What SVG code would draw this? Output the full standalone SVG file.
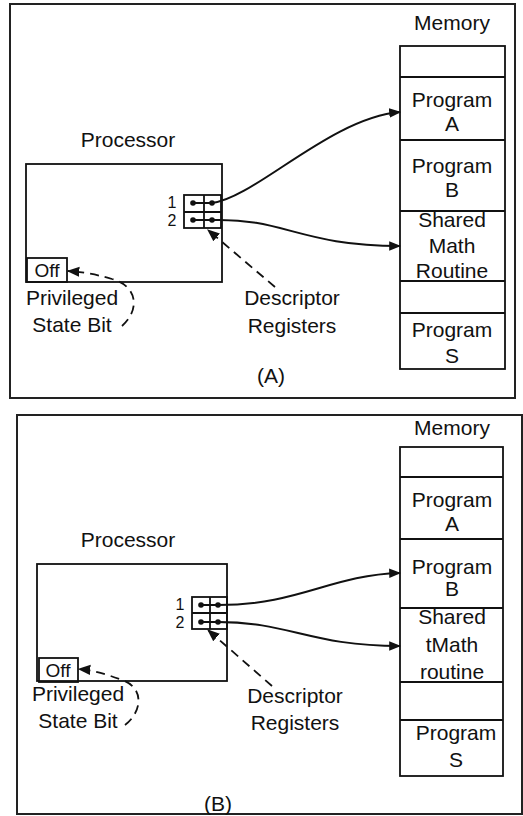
<svg xmlns="http://www.w3.org/2000/svg" width="523" height="816" viewBox="0 0 523 816">
<style>
text{font-family:"Liberation Sans",Arial,sans-serif;font-size:21px;fill:#111;text-anchor:middle}
.sm{font-size:19px}
.num{font-size:16px}
.box{fill:none;stroke:#111;stroke-width:1.8}
.frame{fill:none;stroke:#222;stroke-width:2}
.conn{fill:none;stroke:#111;stroke-width:2}
.dash{fill:none;stroke:#111;stroke-width:1.8;stroke-dasharray:9 6}
.dot{fill:#111}
</style>
<defs>
<marker id="ah" viewBox="0 0 10 10" refX="9" refY="5" markerWidth="6" markerHeight="6" orient="auto" markerUnits="strokeWidth">
<path d="M0,1 L10,5 L0,9 z" fill="#111"/>
</marker>
<marker id="ahd" viewBox="0 0 10 10" refX="9" refY="5" markerWidth="7" markerHeight="7" orient="auto" markerUnits="strokeWidth">
<path d="M0,1 L10,5 L0,9 z" fill="#111"/>
</marker>
</defs>

<!-- Panel A -->
<g id="panelA">
<rect class="frame" x="10" y="4" width="505" height="394"/>
<text x="271" y="383">(A)</text>
</g>
<g id="memoryA">
<text x="452" y="30">Memory</text>
<rect class="box" x="400" y="46" width="105" height="323"/>
<line class="box" x1="400" y1="77" x2="505" y2="77"/>
<line class="box" x1="400" y1="140" x2="505" y2="140"/>
<line class="box" x1="400" y1="211" x2="505" y2="211"/>
<line class="box" x1="400" y1="281" x2="505" y2="281"/>
<line class="box" x1="400" y1="313" x2="505" y2="313"/>
<text x="452" y="107">Program</text><text x="452" y="131">A</text>
<text x="452" y="173">Program</text><text x="452" y="197">B</text>
<text x="452" y="227">Shared</text><text x="452" y="253">Math</text><text x="452" y="278">Routine</text>
<text x="452" y="337">Program</text><text x="452" y="363">S</text>
</g>
<g id="processorA">
<text x="128" y="147">Processor</text>
<rect class="box" x="26" y="164" width="196" height="118"/>
</g>
<g id="registersA">
<rect class="box" x="184" y="195" width="37" height="33"/>
<line class="box" x1="184" y1="212" x2="221" y2="212"/>
<line class="box" x1="204" y1="195" x2="204" y2="228"/>
<text class="num" x="172" y="208">1</text>
<text class="num" x="172" y="226">2</text>
<circle class="dot" cx="193" cy="203" r="2.8"/><circle class="dot" cx="212" cy="203" r="2.8"/>
<circle class="dot" cx="193" cy="220" r="2.8"/><circle class="dot" cx="212" cy="220" r="2.8"/>
<line class="conn" x1="193" y1="203" x2="212" y2="203"/>
<line class="conn" x1="193" y1="220" x2="212" y2="220"/>
</g>
<g id="offA">
<rect class="box" x="27" y="258" width="40" height="24"/>
<text class="sm" x="47" y="277">Off</text>
</g>
<g id="labelsA">
<text x="72" y="305">Privileged</text>
<text x="72" y="332">State Bit</text>
<text x="292" y="305">Descriptor</text>
<text x="292" y="333">Registers</text>
</g>

<!-- Panel B -->
<g id="panelB">
<rect class="frame" x="17" y="415" width="505" height="399"/>
<text x="218" y="811">(B)</text>
</g>
<g id="memoryB">
<text x="452" y="435">Memory</text>
<rect class="box" x="400" y="447" width="103" height="329"/>
<line class="box" x1="400" y1="477" x2="503" y2="477"/>
<line class="box" x1="400" y1="539" x2="503" y2="539"/>
<line class="box" x1="400" y1="608" x2="503" y2="608"/>
<line class="box" x1="400" y1="682" x2="503" y2="682"/>
<line class="box" x1="400" y1="720" x2="503" y2="720"/>
<text x="452" y="507">Program</text><text x="452" y="531">A</text>
<text x="452" y="574">Program</text><text x="452" y="596">B</text>
<text x="452" y="624">Shared</text><text x="452" y="652">tMath</text><text x="452" y="679">routine</text>
<text x="456" y="740">Program</text><text x="456" y="767">S</text>
</g>
<g id="processorB">
<text x="128" y="547">Processor</text>
<rect class="box" x="37" y="564" width="190" height="117"/>
</g>
<g id="registersB">
<rect class="box" x="192" y="597" width="35" height="32"/>
<line class="box" x1="192" y1="613" x2="227" y2="613"/>
<line class="box" x1="210" y1="597" x2="210" y2="629"/>
<text class="num" x="180" y="610">1</text>
<text class="num" x="180" y="628">2</text>
<circle class="dot" cx="201" cy="605" r="2.8"/><circle class="dot" cx="218" cy="605" r="2.8"/>
<circle class="dot" cx="201" cy="622" r="2.8"/><circle class="dot" cx="218" cy="622" r="2.8"/>
<line class="conn" x1="201" y1="605" x2="218" y2="605"/>
<line class="conn" x1="201" y1="622" x2="218" y2="622"/>
</g>
<g id="offB">
<rect class="box" x="39" y="658" width="39" height="24"/>
<text class="sm" x="58" y="677">Off</text>
</g>
<g id="labelsB">
<text x="78" y="701">Privileged</text>
<text x="78" y="728">State Bit</text>
<text x="295" y="703">Descriptor</text>
<text x="295" y="730">Registers</text>
</g>

<g id="connectors">
<path class="conn" marker-end="url(#ah)" d="M212,203 C255,198 330,118 400,112"/>
<path class="conn" marker-end="url(#ah)" d="M212,220 C285,218 300,246 400,246"/>
<path class="dash" marker-end="url(#ahd)" d="M122,326 C140,310 138,286 112,279 C95,274 82,272 68,271"/>
<path class="dash" marker-end="url(#ahd)" d="M275,287 L208,230"/>
<path class="conn" marker-end="url(#ah)" d="M218,605 C300,605 330,575 400,573"/>
<path class="conn" marker-end="url(#ah)" d="M218,622 C290,622 310,646 400,646"/>
<path class="dash" marker-end="url(#ahd)" d="M125,725 C142,712 145,688 122,680 C106,674 92,670 79,669"/>
<path class="dash" marker-end="url(#ahd)" d="M272,686 L208,630"/>
</g>
</svg>
